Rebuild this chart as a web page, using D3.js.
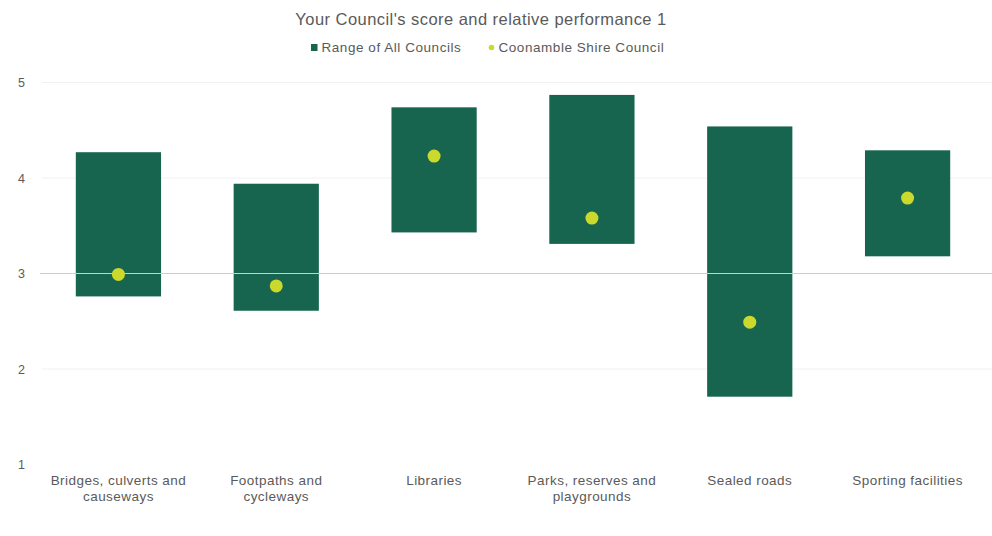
<!DOCTYPE html>
<html>
<head>
<meta charset="utf-8">
<script src="https://cdn.jsdelivr.net/npm/d3@7"></script>
<style>
  html, body { margin: 0; padding: 0; background: #fff; }
  svg { display: block; font-family: "Liberation Sans", Arial, sans-serif; }
</style>
</head>
<body>
<svg id="chart" width="992" height="536"></svg>
<script>
// Service areas and scores (1–5 scale)
const categories = [
  ["Bridges, culverts and", "causeways"],
  ["Footpaths and", "cycleways"],
  ["Libraries"],
  ["Parks, reserves and", "playgrounds"],
  ["Sealed roads"],
  ["Sporting facilities"]
];
const rangeLow  = [2.76, 2.61, 3.43, 3.31, 1.71, 3.18];
const rangeHigh = [4.27, 3.94, 4.74, 4.87, 4.54, 4.29];
const councilScore = [2.99, 2.87, 4.23, 3.58, 2.49, 3.79];
const yTicks = [1, 2, 3, 4, 5];
const seriesNames = ["Range of All Councils", "Coonamble Shire Council"];
const chartTitle = "Your Council's score and relative performance 1";

const barColor = "#17654f";
const dotColor = "#cbd92c";
const textColor = "#5a5a5a";

const svg = d3.select("#chart");
const keys = categories.map(c => c.join(" "));

const x = d3.scaleBand().domain(keys).range([39.5, 986.5])
  .paddingInner(0.46).paddingOuter(0.23);
const y = d3.scaleLinear().domain([1, 5]).range([464.5, 82.5]);

// Title
svg.append("text")
  .attr("x", 481).attr("y", 25)
  .attr("text-anchor", "middle")
  .attr("font-size", 16.5)
  .attr("letter-spacing", 0.45)
  .attr("fill", textColor)
  .text(chartTitle);

// Legend
const legend = svg.append("g").attr("font-size", 13.5).attr("letter-spacing", 0.55).attr("fill", textColor);
legend.append("rect").attr("x", 311).attr("y", 44).attr("width", 6.5).attr("height", 7).attr("fill", barColor);
legend.append("text").attr("x", 321.5).attr("y", 52).text(seriesNames[0]);
legend.append("circle").attr("cx", 491.5).attr("cy", 47.5).attr("r", 2.8).attr("fill", dotColor);
legend.append("text").attr("x", 498.5).attr("y", 52).text(seriesNames[1]);

// Y axis labels
const yAxis = d3.axisLeft(y).tickValues(yTicks).tickSize(0).tickPadding(0).tickFormat(d3.format("d"));
const gAxis = svg.append("g").attr("transform", "translate(25,0)").call(yAxis);
gAxis.select(".domain").remove();
gAxis.selectAll("text").attr("font-size", 12.5).attr("fill", textColor).attr("font-family", "Liberation Sans, Arial, sans-serif");

// Faint gridlines
svg.append("g").selectAll("line")
  .data(yTicks.filter(t => t !== 1 && t !== 3))
  .join("line")
  .attr("x1", 42).attr("x2", 992)
  .attr("y1", d => y(d)).attr("y2", d => y(d))
  .attr("stroke", "#f1f1f1").attr("stroke-width", 1.2);

// Range bars
svg.append("g").selectAll("rect")
  .data(keys)
  .join("rect")
  .attr("x", d => x(d))
  .attr("width", x.bandwidth())
  .attr("y", (d, i) => y(rangeHigh[i]))
  .attr("height", (d, i) => y(rangeLow[i]) - y(rangeHigh[i]))
  .attr("fill", barColor);

// Reference line at 3, drawn over the bars
svg.append("line")
  .attr("x1", 40).attr("x2", 992)
  .attr("y1", y(3)).attr("y2", y(3))
  .attr("stroke", "#c9cfcc").attr("stroke-width", 1.2);

// Council score markers
svg.append("g").selectAll("circle")
  .data(keys)
  .join("circle")
  .attr("cx", d => x(d) + x.bandwidth() / 2)
  .attr("cy", (d, i) => y(councilScore[i]))
  .attr("r", 6.5)
  .attr("fill", dotColor);

// Category labels
const labels = svg.append("g").selectAll("text")
  .data(categories)
  .join("text")
  .attr("text-anchor", "middle")
  .attr("font-size", 13.5)
  .attr("letter-spacing", 0.45)
  .attr("fill", textColor)
  .attr("transform", (d, i) => `translate(${x(keys[i]) + x.bandwidth() / 2},485)`);
labels.selectAll("tspan")
  .data(d => d)
  .join("tspan")
  .attr("x", 0)
  .attr("dy", (d, j) => j === 0 ? 0 : 16)
  .text(d => d);
</script>
</body>
</html>
